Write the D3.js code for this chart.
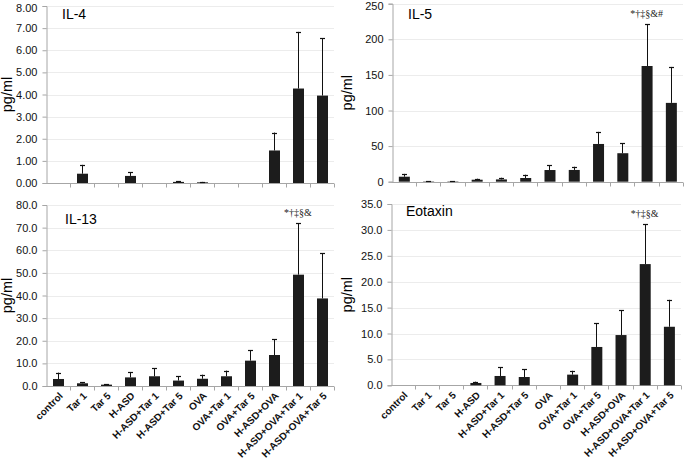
<!DOCTYPE html>
<html><head><meta charset="utf-8">
<script src="https://cdn.jsdelivr.net/npm/d3@7"></script>
<style>body{margin:0;background:#fff}svg{display:block}</style>
</head><body>
<svg id="chart" width="685" height="463"></svg>
<script>
const categories = ["control","Tar 1","Tar 5","H-ASD","H-ASD+Tar 1","H-ASD+Tar 5","OVA","OVA+Tar 1","OVA+Tar 5","H-ASD+OVA","H-ASD+OVA+Tar 1","H-ASD+OVA+Tar 5"];

const il4Mean = [0, 0.42, 0, 0.32, 0, 0.05, 0.03, 0, 0, 1.47, 4.27, 3.95];
const il4Sd   = [0, 0.40, 0, 0.16, 0, 0.03, 0.02, 0, 0, 0.81, 2.56, 2.60];
const il4Ticks = [0,1,2,3,4,5,6,7,8];

const il5Mean = [7, 0.5, 0.5, 2.8, 3.2, 5.2, 16.4, 16.5, 53, 40, 162.5, 110.7];
const il5Sd   = [4, 0.1, 0.1, 1.4, 2.4, 4.6, 6.6, 4.5, 17, 14, 59, 50.5];
const il5Ticks = [0,50,100,150,200,250];

const il13Mean = [3.1, 1.2, 0.6, 3.8, 4.3, 2.4, 3.2, 4.3, 11.2, 13.7, 49.2, 38.7];
const il13Sd   = [2.8, 0.4, 0.1, 2.4, 3.5, 2.0, 1.8, 2.5, 4.6, 6.9, 22.8, 19.9];
const il13Ticks = [0,10,20,30,40,50,60,70,80];

const eotMean = [0, 0, 0, 0.45, 1.8, 1.6, 0, 2.06, 7.4, 9.7, 23.4, 11.3];
const eotSd   = [0, 0, 0, 0.25, 1.7, 1.5, 0, 0.74, 4.6, 4.8, 7.7, 5.2];
const eotTicks = [0,5,10,15,20,25,30,35];

const panels = [
  {title:"IL-4", mean:il4Mean, sd:il4Sd, ticks:il4Ticks, fmt:".2f", box:[46,334,6,183], tpos:[62,19], xlabels:false, note:null},
  {title:"IL-5", mean:il5Mean, sd:il5Sd, ticks:il5Ticks, fmt:"d", box:[391.7,683,3.7,181.7], tpos:[408,19], xlabels:false, note:"*†‡§&#"},
  {title:"IL-13", mean:il13Mean, sd:il13Sd, ticks:il13Ticks, fmt:".1f", box:[46,334,205,386], tpos:[65,224], xlabels:true, note:"*†‡§&"},
  {title:"Eotaxin", mean:eotMean, sd:eotSd, ticks:eotTicks, fmt:".1f", box:[390.7,681,204,385.3], tpos:[406,215.5], xlabels:true, note:"*†‡§&"}
];

const svg = d3.select("#chart");
const FONT = "'Liberation Sans', Arial, sans-serif";
const axisColor = "#a6a6a6";

panels.forEach(p => {
  const [x0,x1,y0,y1] = p.box;
  const x = d3.scaleBand().domain(categories).range([x0,x1]);
  const yMax = p.ticks[p.ticks.length-1];
  const y = d3.scaleLinear().domain([0,yMax]).range([y1,y0]);
  const g = svg.append("g");

  // gridlines
  g.selectAll(".grid").data(p.ticks.slice(1)).join("line")
    .attr("x1",x0).attr("x2",x1)
    .attr("y1",d=>Math.round(y(d))+0.5).attr("y2",d=>Math.round(y(d))+0.5)
    .attr("stroke","#ececec").attr("stroke-width",1);

  // y axis
  const yAxis = d3.axisLeft(y).tickValues(p.ticks).tickFormat(d3.format(p.fmt)).tickSize(4).tickPadding(5);
  const ya = g.append("g").attr("transform",`translate(${Math.round(x0)+0.5},0)`).call(yAxis);
  ya.select(".domain").attr("stroke",axisColor);
  ya.selectAll(".tick line").attr("stroke",axisColor);
  ya.selectAll(".tick text").attr("font-family",FONT).attr("font-size","11px").attr("fill","#111")
    .attr("dy",d => (y(d) < 8 ? "0.5em" : "0.32em"));

  // x axis
  const xa = g.append("g").attr("transform",`translate(0,${Math.round(y1)+0.5})`);
  xa.append("line").attr("x1",x0).attr("x2",x1).attr("stroke",axisColor);
  xa.selectAll(".xt").data(categories).join("line")
    .attr("x1",d=>Math.round(x(d)+x.bandwidth())+0.5).attr("x2",d=>Math.round(x(d)+x.bandwidth())+0.5)
    .attr("y1",0).attr("y2",4).attr("stroke",axisColor);

  const bw = 11;
  const data = categories.map((c,i)=>({c, m:p.mean[i], s:p.sd[i]}));
  // bars
  g.selectAll(".bar").data(data.filter(d=>d.m>0)).join("rect")
    .attr("x",d=>x(d.c)+x.bandwidth()/2-bw/2+0.5)
    .attr("width",bw)
    .attr("y",d=>y(d.m))
    .attr("height",d=>y(0)-y(d.m))
    .attr("fill","#1c1c1c");
  // error bars
  const eb = data.filter(d=>d.m>0 && d.s>0);
  g.selectAll(".ev").data(eb).join("line")
    .attr("x1",d=>Math.round(x(d.c)+x.bandwidth()/2)+0.5).attr("x2",d=>Math.round(x(d.c)+x.bandwidth()/2)+0.5)
    .attr("y1",d=>y(d.m)).attr("y2",d=>y(d.m+d.s))
    .attr("stroke","#111").attr("stroke-width",1);
  g.selectAll(".ec").data(eb).join("line")
    .attr("x1",d=>Math.round(x(d.c)+x.bandwidth()/2)-2).attr("x2",d=>Math.round(x(d.c)+x.bandwidth()/2)+3)
    .attr("y1",d=>Math.round(y(d.m+d.s))+0.5).attr("y2",d=>Math.round(y(d.m+d.s))+0.5)
    .attr("stroke","#111").attr("stroke-width",1.2);

  // title
  g.append("text").attr("x",p.tpos[0]).attr("y",p.tpos[1]).text(p.title)
    .attr("font-family",FONT).attr("font-size","14px").attr("fill","#000");

  // y label
  const lx = x0 < 200 ? 12 : 352;
  g.append("text").attr("transform",`translate(${lx},${(y0+y1)/2}) rotate(-90)`)
    .attr("text-anchor","middle").text("pg/ml")
    .attr("font-family",FONT).attr("font-size","14.5px").attr("fill","#000");

  // significance note
  if (p.note) {
    const c = categories[10];
    const top = y(p.mean[10]+p.sd[10]);
    g.append("text").attr("x",x(c)+x.bandwidth()/2).attr("y",top-7)
      .attr("text-anchor","middle").text(p.note)
      .attr("font-family","'Liberation Serif', 'Times New Roman', serif").attr("font-size","10px").attr("fill","#222");
  }

  // x labels
  if (p.xlabels) {
    g.selectAll(".xl").data(categories).join("text")
      .attr("transform",d=>`translate(${x(d)+x.bandwidth()/2+3},${y1+8}) rotate(-45)`)
      .attr("text-anchor","end").attr("dy","0.35em")
      .text(d=>d)
      .attr("font-family",FONT).attr("font-size","10px").attr("font-weight","bold").attr("fill","#111");
  }
});
</script>
</body></html>
